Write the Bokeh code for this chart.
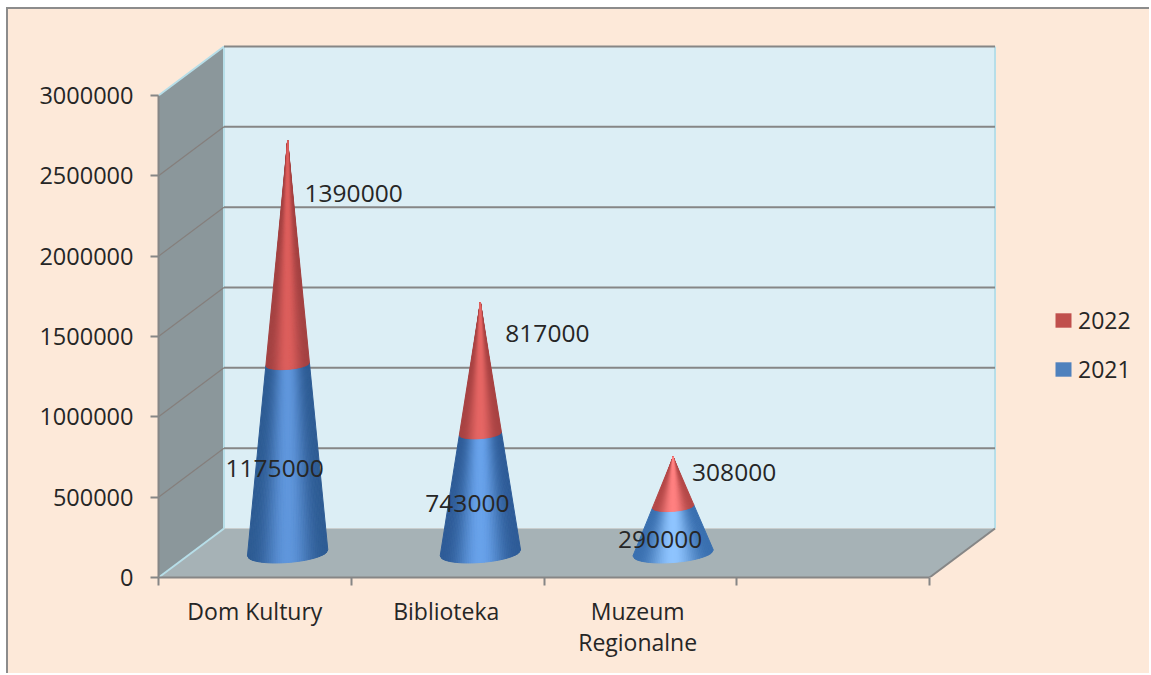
import math
from bokeh.plotting import figure
from bokeh.models import Range1d, LinearAxis, FixedTicker, NumeralTickFormatter, Legend, LegendItem, ColumnDataSource
from bokeh.core.properties import value
from bokeh.embed import file_html
from bokeh.resources import INLINE

categories = ["Dom Kultury", "Biblioteka", "Muzeum\nRegionalne"]
series_2021 = [1175000, 743000, 290000]
series_2022 = [1390000, 817000, 308000]
y_ticks = [0, 500000, 1000000, 1500000, 2000000, 2500000, 3000000]
series_names = ["2022", "2021"]

FONT = "Open Sans"
TXT = "#262626"
AX = "#868686"
BG = "#FDE9D9"
UY = 3000000 / 482.0     # value per pixel
UX = 1 / 192.75          # category slot per pixel
DX = 65.5 * UX
DY = 49 * UY
R = 40.2 * UX
H = 9.5 * UY
TILT = 3.0 * UY
Y_TOP = 533 * UY
X_RIGHT = 993 * UX
N_GROUPS = 4

p = figure(width=1143, height=666, output_backend="svg", toolbar_location=None,
           x_range=Range1d(0, X_RIGHT), y_range=Range1d(0, Y_TOP),
           x_axis_type=None, y_axis_type=None,
           min_border_left=150, min_border_right=0, min_border_top=35, min_border_bottom=98,
           background_fill_color=None, border_fill_color=None, outline_line_color=None,
           styles={"position": "absolute", "left": "6px", "top": "7px", "background-color": BG,
                   "border-left": "2px solid #8c8c8c", "border-top": "2px solid #8c8c8c"})
p.grid.visible = False

# walls
p.patch([0, DX, DX, 0], [0, DY, 3000000 + DY, 3000000], fill_color="#8B979B", line_color=None)
p.patch([DX, N_GROUPS + DX, N_GROUPS + DX, DX], [DY, DY, 3000000 + DY, 3000000 + DY],
        fill_color="#DCEEF5", line_color=None)
p.patch([0, N_GROUPS, N_GROUPS + DX, DX], [0, 0, DY, DY], fill_color="#A6B2B6", line_color=None)

# wall edges
p.line([DX, DX], [DY, 3000000 + DY], line_color="#B7DEE8", line_width=2)
p.line([N_GROUPS + DX, N_GROUPS + DX], [DY, 3000000 + DY], line_color="#B7DEE8", line_width=2)
p.line([0, DX], [3000000, 3000000 + DY], line_color="#B7DEE8", line_width=2)
p.line([0, DX], [0, DY], line_color="#B7DEE8", line_width=2)
p.line([N_GROUPS, N_GROUPS + DX], [0, DY], line_color=AX, line_width=2)

# gridlines
for v in y_ticks[1:]:
    p.line([DX, N_GROUPS + DX], [v + DY, v + DY], line_color=AX, line_width=2)
    if v < 3000000:
        p.line([0, DX], [v, v + DY], line_color="#857f7c", line_width=1.2)


def lerp(c0, c1, s):
    return "#%02x%02x%02x" % tuple(round(a + (b - a) * s) for a, b in zip(c0, c1))


BLUE = [((0x2e, 0x5c, 0x94), (0x5f, 0x96, 0xdc)),
        ((0x2e, 0x5c, 0x98), (0x68, 0xa2, 0xea)),
        ((0x3a, 0x70, 0xb0), (0x8e, 0xc4, 0xff))]
RED = [((0xa4, 0x42, 0x42), (0xdc, 0x5e, 0x5c)),
       ((0xa8, 0x42, 0x42), (0xe6, 0x66, 0x64)),
       ((0xb4, 0x48, 0x48), (0xff, 0x80, 0x80))]
N_STRIPS = 44


def ring(cx, cy, total, v, u):
    f = 1 - v / total
    return cx + f * R * u, cy + v + f * (TILT * u - H * math.sqrt(max(0, 1 - u * u)))


for i in range(len(categories)):
    cx = i + 0.5 + DX / 2
    cy = DY / 2
    total = series_2021[i] + series_2022[i]
    for lo, hi, pal in ((0, series_2021[i], BLUE[i]), (series_2021[i], total, RED[i])):
        xs, ys, cs = [], [], []
        order = sorted(range(N_STRIPS), key=lambda k: -abs(k + 0.5 - N_STRIPS / 2))
        for k in order:
            u0 = -1 + 2 * k / N_STRIPS
            u1 = -1 + 2 * (k + 1) / N_STRIPS
            a0 = ring(cx, cy, total, lo, u0)
            a1 = ring(cx, cy, total, lo, u1)
            b1 = ring(cx, cy, total, hi, u1)
            b0 = ring(cx, cy, total, hi, u0)
            xs.append([a0[0], a1[0], b1[0], b0[0]])
            ys.append([a0[1], a1[1], b1[1], b0[1]])
            um = (u0 + u1) / 2
            cs.append(lerp(pal[0], pal[1], math.cos(um * math.pi / 2) ** 2.6))
        p.patches(xs="xs", ys="ys", fill_color="cs", line_color="cs", line_width=1,
                  source=ColumnDataSource(dict(xs=xs, ys=ys, cs=cs)))

# data labels
cxs = [i + 0.5 + DX / 2 for i in range(len(categories))]
label_dx = [66, 67, 61]
label_dy = [0, 0, 4]
p.text(x=cxs, y=[DY / 2 + v / 2 for v in series_2021], text=[str(v) for v in series_2021],
       x_offset=-13, y_offset=10, text_font=value(FONT), text_font_size="24.5px",
       text_color=TXT, text_align="center", text_baseline="middle")
p.text(x=cxs, y=[DY / 2 + a + 0.765 * b for a, b in zip(series_2021, series_2022)],
       text=[str(v) for v in series_2022], x_offset=label_dx, y_offset=label_dy, text_font=value(FONT),
       text_font_size="24.5px", text_color=TXT, text_align="center", text_baseline="middle")

# axes
yax = LinearAxis(ticker=FixedTicker(ticks=y_ticks), formatter=NumeralTickFormatter(format="0"),
                 bounds=(0, 3000000), axis_line_color=AX, axis_line_width=2,
                 major_tick_line_color=AX, major_tick_line_width=2, major_tick_out=8, major_tick_in=0,
                 minor_tick_out=0, minor_tick_in=0, major_label_standoff=17,
                 major_label_text_font=FONT, major_label_text_font_size="23.5px",
                 major_label_text_color=TXT)
p.add_layout(yax, "left")

label_pos = [i * 0.993 + 0.5 for i in range(len(categories))]
xax = LinearAxis(ticker=FixedTicker(ticks=label_pos, minor_ticks=list(range(N_GROUPS + 1))),
                 major_label_overrides={pos: c for pos, c in zip(label_pos, categories)},
                 bounds=(0, N_GROUPS), axis_line_color=AX, axis_line_width=2,
                 major_tick_out=0, major_tick_in=0, major_tick_line_color=None,
                 minor_tick_line_color=AX, minor_tick_line_width=2, minor_tick_out=8, minor_tick_in=0,
                 major_label_standoff=9, major_label_text_font=FONT,
                 major_label_text_font_size="23px", major_label_text_color=TXT,
                 major_label_text_line_height=0.97)
p.add_layout(xax, "below")

# legend
r22 = p.quad(left=[0], right=[0], top=[0], bottom=[0], fill_color="#C0504D", line_color=None)
r21 = p.quad(left=[0], right=[0], top=[0], bottom=[0], fill_color="#4F81BD", line_color=None)
legend = Legend(items=[LegendItem(label=series_names[0], renderers=[r22]),
                       LegendItem(label=series_names[1], renderers=[r21])],
                location=(895, 192), orientation="vertical", background_fill_alpha=0,
                border_line_color=None, glyph_width=20, glyph_height=18, label_standoff=5,
                spacing=17, padding=0, margin=0, label_text_font=FONT,
                label_text_font_size="23px", label_text_color=TXT)
p.add_layout(legend, "center")

open("out.html", "w").write(file_html(p, INLINE))
